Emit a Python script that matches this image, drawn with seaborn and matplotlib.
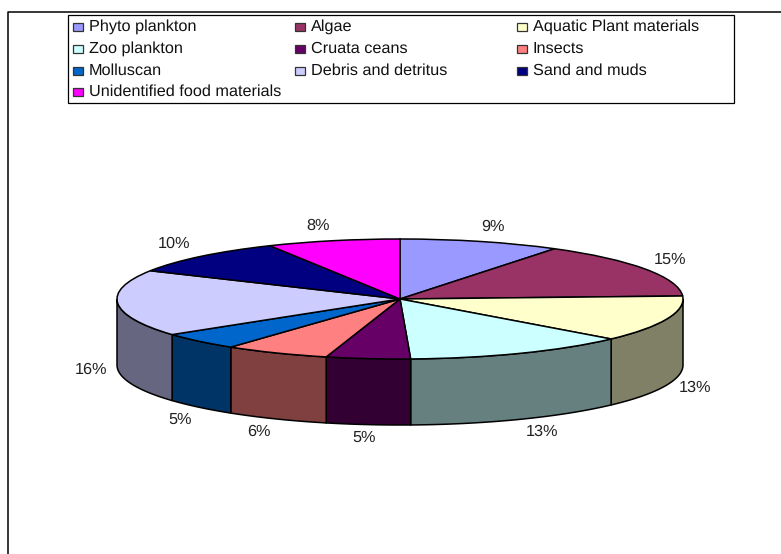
import numpy as np
import matplotlib
matplotlib.use('Agg')
import matplotlib.pyplot as plt
from matplotlib.patches import Rectangle
import seaborn as sns

W, H = 781, 554

# food items, in slice order
items = ['Phyto plankton', 'Algae', 'Aquatic Plant materials',
         'Zoo plankton', 'Cruata ceans', 'Insects',
         'Molluscan', 'Debris and detritus', 'Sand and muds',
         'Unidentified food materials']
# slice sizes as measured on the picture (3D perspective makes them differ a bit from the labels)
shares = [9.2, 15.0, 12.4, 12.8, 4.8, 6.0, 4.7, 17.9, 9.6, 7.6]
pct_labels = ['9%', '15%', '13%', '13%', '5%', '6%', '5%', '16%', '10%', '8%']
colors = ['#9999FF', '#993366', '#FFFFCC', '#CCFFFF', '#660066',
          '#FF8080', '#0066CC', '#CCCCFF', '#000080', '#FF00FF']

# where each percent label sits, in pixels
label_x = [493, 670, 695, 542, 364, 259, 180, 91, 174, 318]
label_y = [227, 260, 388, 432, 438, 432, 420, 370, 244, 226]

# pie geometry in pixels
cx, cy, rx, ry, depth = 400, 299, 283, 60, 66

sns.set_theme(style='white')
plt.rcParams['font.family'] = ['Liberation Sans', 'DejaVu Sans']
plt.rcParams['text.hinting'] = 'no_hinting'
palette = sns.color_palette(colors)

fig = plt.figure(figsize=(W / 100, H / 100), dpi=100)
ax = fig.add_axes([0, 0, 1, 1])

# top face, unit circle squashed by the axis limits
ax.pie(shares, colors=palette, startangle=90, counterclock=False, radius=1,
       wedgeprops={'edgecolor': 'black', 'linewidth': 1.1, 'zorder': 3})
ax.set_aspect('auto')
ax.set_xlim((0 - cx) / rx, (W - cx) / rx)
ax.set_ylim((cy - H) / ry, (cy - 0) / ry)
ax.axis('off')

# side wall, only the front half of the rim shows
drop = depth / ry
edges = np.cumsum([0] + shares) / sum(shares) * 360
for i, col in enumerate(palette):
    a0, a1 = max(edges[i], 90), min(edges[i + 1], 270)
    if a1 <= a0:
        continue
    t = np.radians(np.linspace(a0, a1, 80))
    xs, ys = np.sin(t), np.cos(t)
    shade = tuple(c * 0.5 for c in col)
    ax.fill(np.r_[xs, xs[::-1]], np.r_[ys, ys[::-1] - drop],
            facecolor=shade, edgecolor='black', linewidth=1.1, zorder=2)

# percent labels
for txt, x, y in zip(pct_labels, label_x, label_y):
    fig.text(x / W, 1 - y / H, txt, ha='center', va='center', fontsize=11.7, color='#222222')


def box(x, y, w, h, **kw):
    fig.add_artist(Rectangle((x / W, 1 - (y + h) / H), w / W, h / H,
                             transform=fig.transFigure, **kw))


# outer frame: only top and left are inside the picture
fig.add_artist(plt.Line2D([8 / W, 8 / W, 1], [0, 1 - 12 / H, 1 - 12 / H], color='black', linewidth=1.1))

# legend box, filled row by row
box(68, 15, 666, 88, facecolor='white', edgecolor='black', linewidth=0.9)
col_x = [73, 295, 517]
row_y = [26.5, 48.5, 70.5, 91.5]
for i, name in enumerate(items):
    x, y = col_x[i % 3], row_y[i // 3]
    box(x, y - 4, 10, 8, facecolor=palette[i], edgecolor='#333333', linewidth=0.9)
    fig.text((x + 16) / W, 1 - y / H, name, ha='left', va='center', fontsize=11.7, color='#111111')

fig.savefig('out.png', dpi=100, facecolor='white')
